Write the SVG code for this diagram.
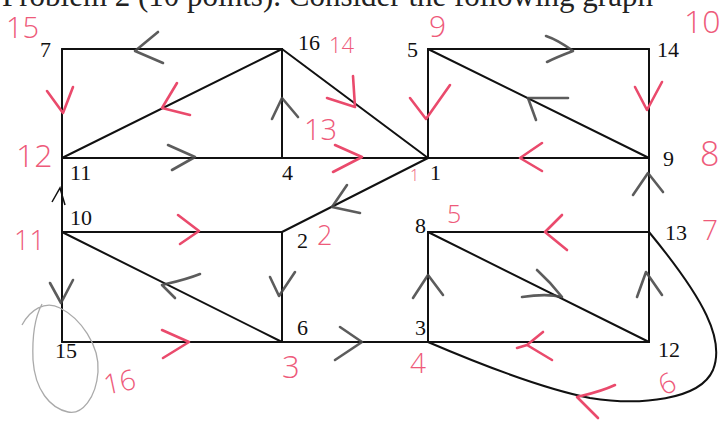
<svg xmlns="http://www.w3.org/2000/svg" width="721" height="422" viewBox="0 0 721 422">
<style>
.edge{stroke:#111;stroke-width:2;fill:none;stroke-linecap:round}
.lbl{font-family:"Liberation Serif","Times New Roman",serif;font-size:22px;fill:#111}
.hd{font-family:"Liberation Serif","Times New Roman",serif;font-size:31px;fill:#222}
.rn{font-family:"Open Sans","Liberation Sans",sans-serif;font-weight:300;fill:#ee5a7a}
.rm{stroke:#ea4a6c;stroke-width:2.6;fill:none;stroke-linecap:round;stroke-linejoin:round}
.gm{stroke:#4a4a4a;stroke-width:2.6;fill:none;stroke-linecap:round;stroke-linejoin:round;opacity:0.9}
.pencil{stroke:#aaa;stroke-width:1.3;fill:none}
</style>
<rect width="721" height="422" fill="#fff"/>
<text class="hd" x="2" y="6">Problem 2 (10 points). Consider the following graph</text>

<g id="connectors">
<path class="edge" d="M62,49 H282"/>
<path class="edge" d="M62,49 V158"/>
<path class="edge" d="M282,49 L62,158"/>
<path class="edge" d="M282,49 V158"/>
<path class="edge" d="M62,158 H282"/>
<path class="edge" d="M282,49 L428,158"/>
<path class="edge" d="M282,158 H428"/>
<path class="edge" d="M428,49 H649"/>
<path class="edge" d="M428,49 V158"/>
<path class="edge" d="M428,49 L649,158"/>
<path class="edge" d="M649,49 V158"/>
<path class="edge" d="M428,158 H649"/>
<path class="edge" d="M428,158 L282,232"/>
<path class="edge" d="M62,158 V232"/>
<path class="edge" d="M649,158 V232"/>
<path class="edge" d="M62,232 H282"/>
<path class="edge" d="M62,232 L282,342"/>
<path class="edge" d="M62,232 V342"/>
<path class="edge" d="M282,232 V342"/>
<path class="edge" d="M62,342 H282"/>
<path class="edge" d="M282,342 H428"/>
<path class="edge" d="M428,232 H649"/>
<path class="edge" d="M428,232 L649,342"/>
<path class="edge" d="M428,232 V342"/>
<path class="edge" d="M649,232 V342"/>
<path class="edge" d="M428,342 H649"/>
<path class="edge" d="M428,342 C470,360 540,388 590,398 C640,406 700,400 713,370 C725,340 705,300 649,232"/>
</g>

<g id="node-7"><text class="lbl" x="40" y="57">7</text></g>
<g id="node-16"><text class="lbl" x="298" y="50">16</text></g>
<g id="node-5"><text class="lbl" x="407" y="57">5</text></g>
<g id="node-14"><text class="lbl" x="657" y="57">14</text></g>
<g id="node-11"><text class="lbl" x="70" y="180">11</text></g>
<g id="node-4"><text class="lbl" x="282" y="180">4</text></g>
<g id="node-1"><text class="lbl" x="430" y="180">1</text></g>
<g id="node-9"><text class="lbl" x="663" y="166">9</text></g>
<g id="node-10"><text class="lbl" x="70" y="225">10</text></g>
<g id="node-2"><text class="lbl" x="297" y="248">2</text></g>
<g id="node-8"><text class="lbl" x="415" y="233">8</text></g>
<g id="node-13"><text class="lbl" x="665" y="240">13</text></g>
<g id="node-15"><text class="lbl" x="55" y="358">15</text></g>
<g id="node-6"><text class="lbl" x="297" y="335">6</text></g>
<g id="node-3"><text class="lbl" x="415" y="335">3</text></g>
<g id="node-12"><text class="lbl" x="658" y="357">12</text></g>

<g id="pencil-loop">
<path class="pencil" d="M22,325 C30,310 45,300 60,308 C80,318 100,345 98,372 C96,398 82,415 68,412 C50,408 35,390 33,360 C32,335 36,315 42,304"/>
</g>

<g id="arrow-marks">
<path class="gm" d="M158,32 L135,51 L163,63"/>
<path class="rm" d="M47,91 L63,113 L73,87"/>
<path class="rm" d="M177,83 L162,108 L190,115"/>
<path class="gm" d="M272,119 L282,98 L298,117"/>
<path class="gm" d="M168,145 L195,157 L172,170"/>
<path class="rm" d="M327,98 L355,107 L353,76"/>
<path class="rm" d="M335,145 L362,157 L333,172"/>
<path class="rm" d="M410,98 L426,119 L450,85"/>
<path class="gm" d="M546,36 C558,40 566,46 573,51 C565,54 555,58 547,62"/>
<path class="gm" d="M568,98 L528,98 L536,120"/>
<path class="rm" d="M635,87 L647,110 L662,82"/>
<path class="rm" d="M542,143 L520,158 L542,171"/>
<path class="gm" d="M633,195 L648,173 L663,192"/>
<path class="gm" d="M347,185 L332,207 L360,213"/>
<path stroke="#111" stroke-width="1.5" fill="none" d="M52,202 L60,188 L65,205"/>
<path class="rm" d="M178,215 L199,231 L180,244"/>
<path class="gm" d="M200,274 C185,280 170,283 162,285 L175,298"/>
<path class="gm" d="M270,277 L279,296 L295,272"/>
<path class="gm" d="M50,283 L61,303 L73,280"/>
<path class="rm" d="M162,330 L189,342 L163,358"/>
<path class="gm" d="M340,327 L362,342 L335,360"/>
<path class="gm" d="M413,298 L428,275 L443,295"/>
<path class="rm" d="M562,215 L545,232 L567,250"/>
<path class="gm" d="M537,270 C548,280 555,288 562,297 C550,294 535,295 522,297"/>
<path class="gm" d="M637,297 L646,272 L662,295"/>
<path class="rm" d="M543,332 L527,345 L552,360 M517,348 L527,345"/>
<path class="rm" d="M615,385 C600,392 585,395 577,397 L598,418"/>
</g>

<g id="red-numbers">
<text class="rn" x="6" y="38" font-size="29">15</text>
<text class="rn" x="329" y="53" font-size="22">14</text>
<text class="rn" x="429" y="37" font-size="30">9</text>
<text class="rn" x="684" y="33" font-size="32">10</text>
<text class="rn" x="16" y="167" font-size="32">12</text>
<text class="rn" x="304" y="140" font-size="29">13</text>
<text class="rn" x="410" y="181" font-size="16">1</text>
<text class="rn" x="700" y="166" font-size="34">8</text>
<text class="rn" x="14" y="250" font-size="27">11</text>
<text class="rn" x="317" y="245" font-size="27">2</text>
<text class="rn" x="447" y="223" font-size="25">5</text>
<text class="rn" x="702" y="240" font-size="28">7</text>
<text class="rn" x="0" y="0" font-size="28" transform="translate(106,395) rotate(-12)">16</text>
<text class="rn" x="282" y="378" font-size="31">3</text>
<text class="rn" x="410" y="373" font-size="28">4</text>
<text class="rn" x="0" y="0" font-size="28" transform="translate(664,396) rotate(-25)">6</text>
</g>
</svg>
